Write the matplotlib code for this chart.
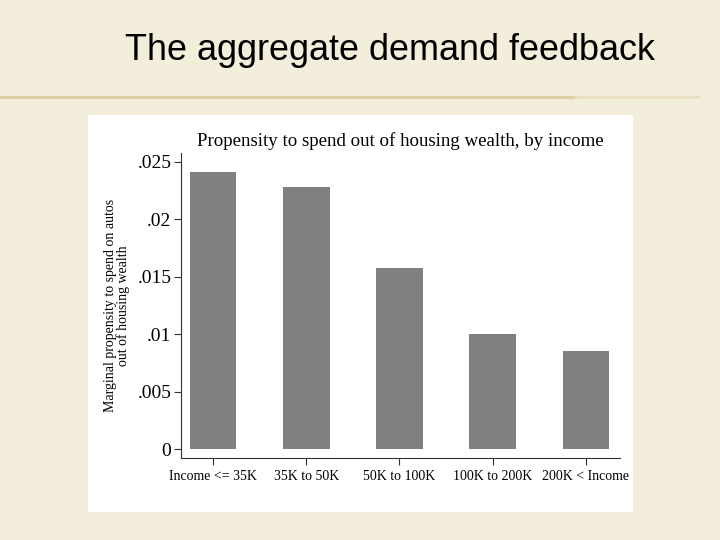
import numpy as np
import matplotlib
matplotlib.use('Agg')
import matplotlib.pyplot as plt
from matplotlib.patches import Rectangle

# Data
categories = ['Income <= 35K', '35K to 50K', '50K to 100K', '100K to 200K', '200K < Income']
values = [0.0241, 0.0228, 0.0158, 0.0100, 0.0085]
yticks = [0, 0.005, 0.01, 0.015, 0.02, 0.025]
ytick_labels = ['0', '.005', '.01', '.015', '.02', '.025']

bg = '#F3EEDC'
fig = plt.figure(figsize=(7.2, 5.4), dpi=100, facecolor=bg)

# Slide title and rule
fig.text(0.5417, 0.907, 'The aggregate demand feedback', ha='center', va='center',
         fontsize=25.9, family='Liberation Sans', color='black')
fig.add_artist(plt.Line2D([0.0, 0.80], [0.820, 0.820], color='#DDD0A4', lw=2.2))
fig.add_artist(plt.Line2D([0.80, 0.97], [0.820, 0.820], color='#E9E0C2', lw=2.0))

# White chart panel
fig.add_artist(Rectangle((0.1222, 0.0519), 0.7569, 0.7352, transform=fig.transFigure,
                         facecolor='white', edgecolor='none', zorder=0))

ax = fig.add_axes([0.2514, 0.1519, 0.6097, 0.5648])
ax.set_facecolor('white')
x = np.arange(len(categories))
ax.bar(x, values, width=0.5, color='#808080')

ax.set_xlim(-0.343, 4.365)
ax.set_ylim(-0.00078, 0.02578)
ax.set_xticks(x)
ax.set_xticklabels(categories, family='Liberation Serif', fontsize=10)
ax.set_yticks(yticks)
ax.set_yticklabels(ytick_labels, family='Liberation Serif', fontsize=14)

for s in ['top', 'right']:
    ax.spines[s].set_visible(False)
for s in ['left', 'bottom']:
    ax.spines[s].set_color('#333333')
    ax.spines[s].set_linewidth(0.8)
ax.tick_params(axis='both', direction='out', length=5, width=0.8, color='#333333')
ax.tick_params(axis='y', pad=2)

ax.set_ylabel('Marginal propensity to spend on autos\nout of housing wealth',
              family='Liberation Serif', fontsize=10, linespacing=1.0, labelpad=5)
ax.set_title('Propensity to spend out of housing wealth, by income',
             family='Liberation Serif', fontsize=13.6, pad=5)

fig.savefig('out.png', dpi=100, facecolor=bg)
